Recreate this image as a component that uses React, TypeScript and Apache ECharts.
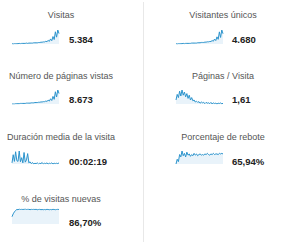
import React, { useEffect, useRef } from "react";
import * as echarts from "echarts";

const titles = [
  "Visitas",
  "Visitantes únicos",
  "Número de páginas vistas",
  "Páginas / Visita",
  "Duración media de la visita",
  "Porcentaje de rebote",
  "% de visitas nuevas",
];
const values = ["5.384", "4.680", "8.673", "1,61", "00:02:19", "65,94%", "86,70%"];

const visitas = [10, 9, 10, 10, 10, 10, 11, 10, 11, 11, 11, 11, 12, 11, 12, 12, 12, 12, 13, 13, 13, 13, 14, 14, 15, 15, 16, 16, 18, 17, 21, 18, 26, 20, 34, 24, 50, 32, 56, 44];
const visitantes = [10, 9, 10, 10, 10, 10, 11, 10, 11, 11, 11, 11, 11, 12, 12, 12, 12, 12, 13, 13, 13, 14, 14, 14, 15, 15, 16, 16, 17, 17, 20, 18, 25, 20, 32, 24, 48, 30, 54, 42];
const paginas = [10, 10, 10, 11, 11, 11, 11, 12, 12, 12, 12, 12, 13, 13, 13, 13, 14, 14, 14, 15, 15, 15, 16, 16, 17, 17, 18, 18, 20, 19, 23, 20, 28, 22, 36, 26, 52, 34, 58, 46];
const pagVisita = [30, 44, 36, 52, 40, 55, 42, 50, 38, 46, 34, 42, 30, 36, 28, 30, 25, 27, 24, 26, 22, 25, 23, 24, 21, 24, 22, 23, 21, 24, 20, 23, 21, 22, 20, 22, 21, 23, 20, 22];
const duracion = [30, 52, 34, 60, 36, 34, 62, 33, 44, 30, 58, 32, 38, 55, 30, 33, 28, 31, 27, 29, 28, 30, 27, 29, 28, 31, 27, 29, 28, 30, 27, 29, 28, 30, 27, 29, 28, 29, 28, 30];
const rebote = [30, 38, 34, 46, 42, 52, 44, 48, 42, 50, 45, 47, 43, 46, 44, 48, 45, 47, 44, 46, 47, 45, 46, 45, 47, 46, 48, 46, 45, 47, 46, 48, 46, 47, 47, 46, 48, 47, 48, 47];
const nuevas = [30, 42, 50, 56, 60, 59, 62, 60, 61, 60, 61, 62, 60, 61, 61, 59, 61, 60, 61, 60, 61, 59, 60, 61, 59, 60, 59, 60, 59, 61, 60, 59, 60, 59, 61, 60, 59, 60, 61, 60];

const seriesData = [visitas, visitantes, paginas, pagVisita, duracion, rebote, nuevas];

const LINE = "#2b93cc";
const FILL = "#e9f3fa";

export default function App() {
  const ref = useRef<HTMLDivElement>(null);
  useEffect(() => {
    document.body.style.margin = "0";
    const chart = echarts.init(ref.current!, null, { renderer: "svg" });
    const rowTitleY = [15, 76, 137, 199];
    const rowValueY = [39, 99, 161, 222];
    const rowGridTop = [30, 90, 151, 209];
    const rowGridH = [14, 14, 13, 15];
    const colTitleX = [61, 223];
    const colGridLeft = [12, 176];
    const colValueX = [69, 232];
    const grids: any[] = [];
    const xAxes: any[] = [];
    const yAxes: any[] = [];
    const series: any[] = [];
    const graphics: any[] = [];
    seriesData.forEach((d, i) => {
      const row = Math.floor(i / 2);
      const col = i % 2;
      grids.push({ left: colGridLeft[col], top: rowGridTop[row], width: 47, height: rowGridH[row] });
      xAxes.push({ type: "category", gridIndex: i, show: false, boundaryGap: false, data: d.map((_, k) => k) });
      yAxes.push({ type: "value", gridIndex: i, show: false, min: i === 6 ? 0 : "dataMin", max: "dataMax" });
      series.push({
        type: "line",
        xAxisIndex: i,
        yAxisIndex: i,
        data: d,
        symbol: "none",
        lineStyle: { color: LINE, width: 1 },
        areaStyle: { color: FILL, opacity: 1 },
      });
      graphics.push({
        type: "text",
        x: colTitleX[col],
        y: rowTitleY[row],
        style: {
          text: titles[i],
          fill: "#555",
          font: "9px 'Liberation Sans', Arial, sans-serif",
          textAlign: "center",
          textVerticalAlign: "middle",
        },
      });
      graphics.push({
        type: "text",
        x: colValueX[col],
        y: rowValueY[row],
        style: {
          text: values[i],
          fill: "#222",
          font: "bold 9.5px 'Liberation Sans', Arial, sans-serif",
          textAlign: "left",
          textVerticalAlign: "middle",
        },
      });
    });
    graphics.push({
      type: "line",
      shape: { x1: 143.5, y1: 2, x2: 143.5, y2: 242 },
      style: { stroke: "#e8e8e8", lineWidth: 1 },
    });
    chart.setOption({
      animation: false,
      backgroundColor: "#fff",
      grid: grids,
      xAxis: xAxes,
      yAxis: yAxes,
      series,
      graphic: graphics,
    });
    return () => chart.dispose();
  }, []);
  return <div ref={ref} style={{ position: "absolute", left: 0, top: 0, width: 300, height: 244 }} />;
}
